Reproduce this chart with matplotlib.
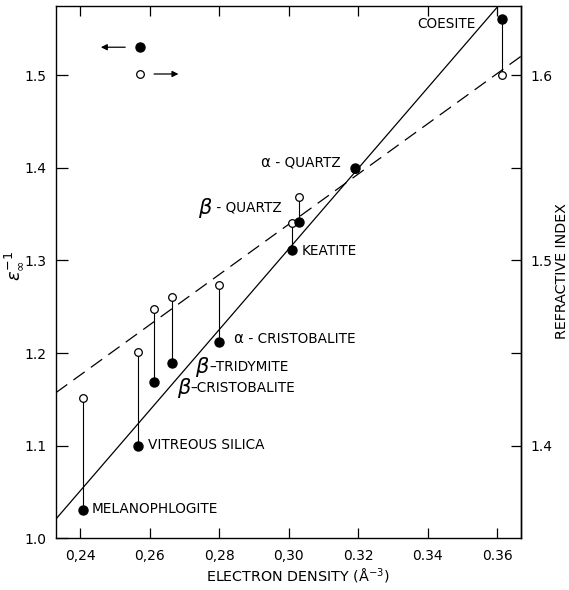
import matplotlib
matplotlib.use("Agg")
import matplotlib.pyplot as plt
import numpy as np

plt.rcParams['font.family'] = ['DejaVu Sans']
plt.rcParams['mathtext.fontset'] = 'dejavusans'
plt.rcParams['lines.scale_dashes'] = False

# ---------------- data ----------------
materials = ["MELANOPHLOGITE", "VITREOUS SILICA", "β-CRISTOBALITE", "β-TRIDYMITE",
             "α-CRISTOBALITE", "KEATITE", "β-QUARTZ", "α-QUARTZ", "COESITE"]
electron_density = [0.2408, 0.2568, 0.2613, 0.2665, 0.2801, 0.3010, 0.3031, 0.3191, 0.3613]
inv_eps = [1.031, 1.100, 1.169, 1.189, 1.212, 1.311, 1.341, 1.400, 1.5605]   # left axis, filled
refr_index = [1.4255, 1.4505, 1.4739, 1.4802, 1.4868, 1.5204, 1.5342, 1.5495, 1.600]  # right axis, open

# fitted lines: value = intercept + slope * density
solid_fit = (0.0055, 4.356)      # eps^-1 vs density
dashed_fit = (1.1121, 1.358)     # refractive index vs density

xticks = [0.24, 0.26, 0.28, 0.30, 0.32, 0.34, 0.36]
xtick_labels = ["0,24", "0,26", "0,28", "0,30", "0.32", "0.34", "0.36"]
yticks = [1.0, 1.1, 1.2, 1.3, 1.4, 1.5]
ytick_labels = ["1.0", "1.1", "1.2", "1.3", "1.4", "1.5"]
rticks = [1.4, 1.5, 1.6]
rtick_labels = ["1.4", "1.5", "1.6"]
rminor = [1.45, 1.55]

# relation between right axis (n) and left axis
def n_to_left(n):
    return 2.0 * np.asarray(n) - 1.7

def left_to_n(v):
    return (np.asarray(v) + 1.7) / 2.0

# ---------------- figure ----------------
fig = plt.figure(figsize=(5.69, 5.90), dpi=100)
ax = fig.add_axes([0.0984, 0.0876, 0.8167, 0.9027])
xlim = (0.2331, 0.3667)
ax.set_xlim(*xlim)
ax.set_ylim(1.0, 1.575)

xx = np.array(xlim)
ax.plot(xx, solid_fit[0] + solid_fit[1] * xx, color='k', lw=0.9, zorder=2)
dl, = ax.plot(xx, n_to_left(dashed_fit[0] + dashed_fit[1] * xx), color='k', lw=0.9, zorder=2)
dl.set_dashes((10, 5.5))

open_left = n_to_left(refr_index)
ax.vlines(electron_density, inv_eps, open_left, color='k', lw=0.8, zorder=3)
ax.plot(electron_density, open_left, 'o', ms=5.5, mfc='white', mec='k', mew=0.9, zorder=4, ls='none')
ax.plot(electron_density, inv_eps, 'o', ms=6.5, mfc='k', mec='k', zorder=5, ls='none')

# legend-like key
ax.plot([0.2573], [1.5302], 'o', ms=6.5, mfc='k', mec='k')
ax.plot([0.2573], [1.5013], 'o', ms=5.5, mfc='white', mec='k', mew=0.9)
ax.annotate('', xy=(0.2460, 1.5302), xytext=(0.2530, 1.5302),
            arrowprops=dict(arrowstyle='-|>', lw=0.9, color='k', mutation_scale=9, shrinkA=0, shrinkB=0))
ax.annotate('', xy=(0.2683, 1.5013), xytext=(0.2613, 1.5013),
            arrowprops=dict(arrowstyle='-|>', lw=0.9, color='k', mutation_scale=9, shrinkA=0, shrinkB=0))

# labels: (x, y, ha, text after greek prefix)
fs = 9.8
label_pos = {
    "COESITE": (0.3536, 1.5556, 'right', None),
    "α-QUARTZ": (0.2918, 1.4053, 'left', " - QUARTZ"),
    "β-QUARTZ": (0.2739, 1.3567, 'left', " - QUARTZ"),
    "KEATITE": (0.3038, 1.3106, 'left', None),
    "α-CRISTOBALITE": (0.2840, 1.2152, 'left', " - CRISTOBALITE"),
    "β-TRIDYMITE": (0.2731, 1.1853, 'left', "–TRIDYMITE"),
    "β-CRISTOBALITE": (0.2678, 1.1620, 'left', "–CRISTOBALITE"),
    "VITREOUS SILICA": (0.2596, 1.1008, 'left', None),
    "MELANOPHLOGITE": (0.2434, 1.0316, 'left', None),
}
for name in materials:
    x, y, ha, rest = label_pos[name]
    if rest is None:
        ax.text(x, y, name, fontsize=fs, ha=ha, va='center')
    else:
        if name[0] == "β":
            g = ax.text(x, y, 'β', fontsize=15, style='italic', ha='left', va='center')
        else:
            g = ax.text(x, y, 'α', fontsize=fs + 1, ha='left', va='center')
        ax.annotate(rest, xy=(1.0, 0.5), xycoords=g, xytext=(0.5, 0),
                    textcoords='offset points', fontsize=fs, ha='left', va='center')

# ticks
ax.set_xticks(xticks)
ax.set_xticklabels(xtick_labels)
ax.set_yticks(yticks)
ax.set_yticklabels(ytick_labels)
ax.tick_params(axis='both', direction='in', length=8.5, width=0.9, labelsize=10, pad=7,
               top=True, right=False)
ax.tick_params(axis='x', pad=8, length=7.5)
for s in ax.spines.values():
    s.set_linewidth(1.0)

sec = ax.secondary_yaxis('right', functions=(left_to_n, n_to_left))
sec.set_yticks(rticks)
sec.set_yticklabels(rtick_labels)
sec.set_yticks(rminor, minor=True)
sec.tick_params(which='both', direction='in', length=7.5, width=0.9, labelsize=10, pad=7)
sec.spines['right'].set_linewidth(1.0)

fig.text(298 / 569, 1 - 576 / 590, r'ELECTRON DENSITY (Å$^{-3}$)', fontsize=10.3,
         ha='center', va='center')
fig.text(14 / 569, 1 - 266 / 590, r'$\epsilon_\infty^{-1}$', fontsize=13, rotation=90,
         ha='center', va='center')
fig.text(562 / 569, 1 - 271 / 590, 'REFRACTIVE INDEX', fontsize=10.3, rotation=90,
         ha='center', va='center')

fig.savefig('out.png', dpi=100)
